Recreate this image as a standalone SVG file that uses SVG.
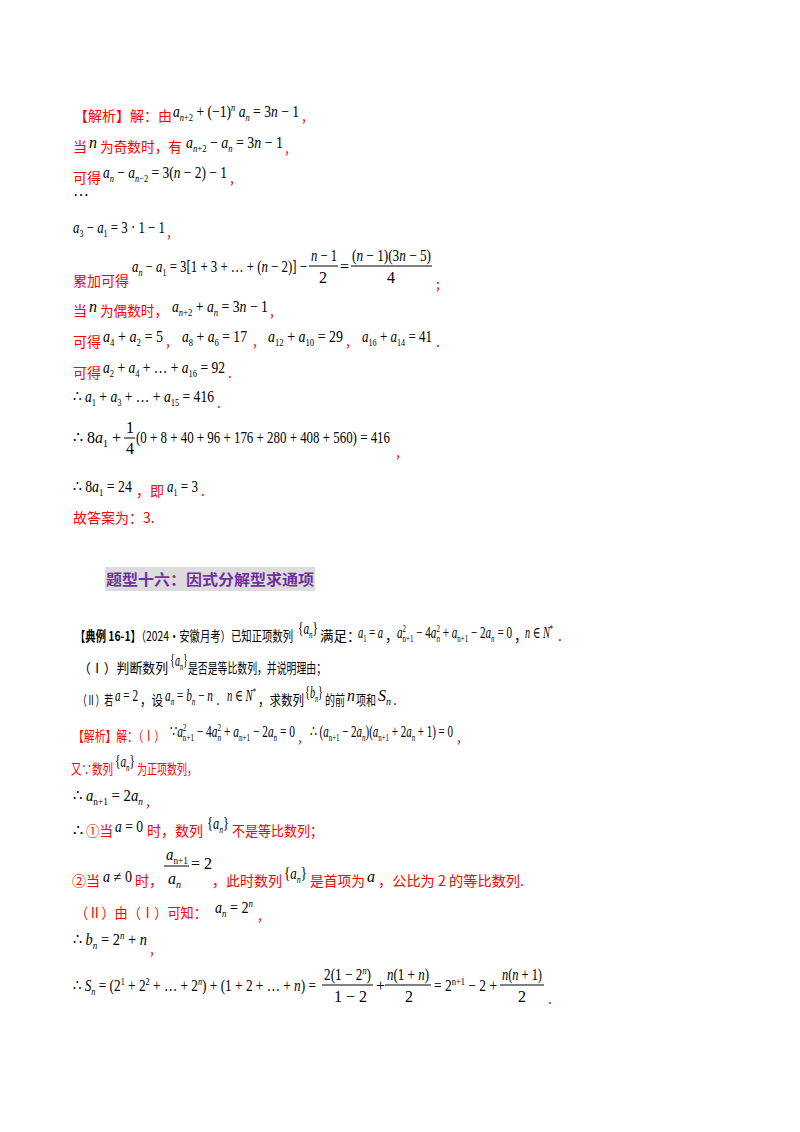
<svg xmlns="http://www.w3.org/2000/svg" width="800" height="1132" viewBox="0 0 800 1132">
<style>
.r{fill:#ff0000;font-family:"Noto Sans CJK SC",sans-serif;font-size:14px}
.k{fill:#000;font-family:"Noto Sans CJK SC",sans-serif;font-size:13.5px}
.m{fill:#000;font-family:"Liberation Serif","Times New Roman","DejaVu Serif",serif;font-size:16px}
.i{font-style:italic}
.s{font-size:10px}
.b{font-weight:bold}
.t{fill:#7030a0;font-family:"Noto Sans CJK SC",sans-serif;font-size:15px;font-weight:bold}
line{stroke:#000;stroke-width:1}
</style>
<rect width="800" height="1132" fill="#fff"/>
<g id="sol1">
<text x="74" y="121" class="r" textLength="98" lengthAdjust="spacingAndGlyphs">【解析】解：由</text>
<text x="173" y="117" class="m" textLength="126" lengthAdjust="spacingAndGlyphs"><tspan class="i">a</tspan><tspan class="s i" dy="4">n</tspan><tspan class="s" >+2</tspan><tspan dy="-4"> + (−1)</tspan><tspan class="s i" dy="-6">n</tspan><tspan class="i" dy="6"> a</tspan><tspan class="s i" dy="4">n</tspan><tspan dy="-4"> = 3</tspan><tspan class="i">n</tspan> − 1</text>
<text x="302" y="121" class="r">,</text>
<text x="73" y="152" class="r">当</text><text x="89" y="148" class="m i">n</text><text x="100" y="152" class="r" textLength="82" lengthAdjust="spacingAndGlyphs">为奇数时，有</text>
<text x="186" y="148" class="m" textLength="97" lengthAdjust="spacingAndGlyphs"><tspan class="i">a</tspan><tspan class="s i" dy="4">n</tspan><tspan class="s">+2</tspan><tspan dy="-4"> − </tspan><tspan class="i">a</tspan><tspan class="s i" dy="4">n</tspan><tspan dy="-4"> = 3</tspan><tspan class="i">n</tspan> − 1</text>
<text x="285" y="153" class="r">,</text>
<text x="73" y="183" class="r">可得</text>
<text x="103" y="178" class="m" textLength="124" lengthAdjust="spacingAndGlyphs"><tspan class="i">a</tspan><tspan class="s i" dy="4">n</tspan><tspan dy="-4"> − </tspan><tspan class="i">a</tspan><tspan class="s i" dy="4">n</tspan><tspan class="s">−2</tspan><tspan dy="-4"> = 3(</tspan><tspan class="i">n</tspan> − 2) − 1</text>
<text x="230" y="183" class="r">,</text>
<text x="73" y="196" class="m">…</text>
<text x="73" y="233" class="m" textLength="92" lengthAdjust="spacingAndGlyphs"><tspan class="i">a</tspan><tspan class="s" dy="4">3</tspan><tspan dy="-4"> − </tspan><tspan class="i">a</tspan><tspan class="s" dy="4">1</tspan><tspan dy="-4"> = 3 · 1 − 1</tspan></text>
<text x="167" y="237" class="r">,</text>
<text x="73" y="286" class="r">累加可得</text>
<text x="132" y="272" class="m" textLength="175" lengthAdjust="spacingAndGlyphs"><tspan class="i">a</tspan><tspan class="s i" dy="4">n</tspan><tspan dy="-4"> − </tspan><tspan class="i">a</tspan><tspan class="s" dy="4">1</tspan><tspan dy="-4"> = 3[1 + 3 + … + (</tspan><tspan class="i">n</tspan> − 2)] −</text>
<text x="311" y="261" class="m" textLength="26" lengthAdjust="spacingAndGlyphs"><tspan class="i">n</tspan> − 1</text><line x1="309" y1="266" x2="338" y2="266"/><text x="319" y="283" class="m">2</text>
<text x="340" y="272" class="m">=</text>
<text x="352" y="261" class="m" textLength="79" lengthAdjust="spacingAndGlyphs">(<tspan class="i">n</tspan> − 1)(3<tspan class="i">n</tspan> − 5)</text>
<line x1="351" y1="266" x2="432" y2="266"/><text x="387" y="283" class="m">4</text>
<text x="436" y="289" class="r">;</text>
<text x="73" y="316" class="r">当</text><text x="89" y="312" class="m i">n</text><text x="100" y="316" class="r" textLength="68" lengthAdjust="spacingAndGlyphs">为偶数时，</text>
<text x="172" y="312" class="m" textLength="96" lengthAdjust="spacingAndGlyphs"><tspan class="i">a</tspan><tspan class="s i" dy="4">n</tspan><tspan class="s">+2</tspan><tspan dy="-4"> + </tspan><tspan class="i">a</tspan><tspan class="s i" dy="4">n</tspan><tspan dy="-4"> = 3</tspan><tspan class="i">n</tspan> − 1</text>
<text x="270" y="316" class="r">,</text>
<text x="73" y="347" class="r">可得</text>
<text x="103" y="342" class="m" textLength="60" lengthAdjust="spacingAndGlyphs"><tspan class="i">a</tspan><tspan class="s" dy="4">4</tspan><tspan dy="-4"> + </tspan><tspan class="i">a</tspan><tspan class="s" dy="4">2</tspan><tspan dy="-4"> = 5</tspan></text>
<text x="166" y="346" class="r">,</text>
<text x="182" y="342" class="m" textLength="65" lengthAdjust="spacingAndGlyphs"><tspan class="i">a</tspan><tspan class="s" dy="4">8</tspan><tspan dy="-4"> + </tspan><tspan class="i">a</tspan><tspan class="s" dy="4">6</tspan><tspan dy="-4"> = 17</tspan></text>
<text x="253" y="346" class="r">,</text>
<text x="268" y="342" class="m" textLength="75" lengthAdjust="spacingAndGlyphs"><tspan class="i">a</tspan><tspan class="s" dy="4">12</tspan><tspan dy="-4"> + </tspan><tspan class="i">a</tspan><tspan class="s" dy="4">10</tspan><tspan dy="-4"> = 29</tspan></text>
<text x="346" y="346" class="r">,</text>
<text x="362" y="342" class="m" textLength="70" lengthAdjust="spacingAndGlyphs"><tspan class="i">a</tspan><tspan class="s" dy="4">16</tspan><tspan dy="-4"> + </tspan><tspan class="i">a</tspan><tspan class="s" dy="4">14</tspan><tspan dy="-4"> = 41</tspan></text>
<text x="436" y="347" class="r">.</text>
<text x="73" y="378" class="r">可得</text>
<text x="103" y="373" class="m" textLength="122" lengthAdjust="spacingAndGlyphs"><tspan class="i">a</tspan><tspan class="s" dy="4">2</tspan><tspan dy="-4"> + </tspan><tspan class="i">a</tspan><tspan class="s" dy="4">4</tspan><tspan dy="-4"> + … + </tspan><tspan class="i">a</tspan><tspan class="s" dy="4">16</tspan><tspan dy="-4"> = 92</tspan></text>
<text x="228" y="378" class="r">.</text>
<text x="73" y="402" class="m" textLength="141" lengthAdjust="spacingAndGlyphs">∴ <tspan class="i">a</tspan><tspan class="s" dy="4">1</tspan><tspan dy="-4"> + </tspan><tspan class="i">a</tspan><tspan class="s" dy="4">3</tspan><tspan dy="-4"> + … + </tspan><tspan class="i">a</tspan><tspan class="s" dy="4">15</tspan><tspan dy="-4"> = 416</tspan></text>
<text x="217" y="408" class="r">.</text>
<text x="73" y="443" class="m" textLength="48" lengthAdjust="spacingAndGlyphs">∴ 8<tspan class="i">a</tspan><tspan class="s" dy="4">1</tspan><tspan dy="-4"> +</tspan></text>
<text x="126" y="433" class="m">1</text><line x1="124" y1="438" x2="135" y2="438"/><text x="126" y="454" class="m">4</text>
<text x="136" y="443" class="m" textLength="254" lengthAdjust="spacingAndGlyphs">(0 + 8 + 40 + 96 + 176 + 280 + 408 + 560) = 416</text>
<text x="396" y="457" class="r">,</text>
<text x="73" y="492" class="m" textLength="59" lengthAdjust="spacingAndGlyphs">∴ 8<tspan class="i">a</tspan><tspan class="s" dy="4">1</tspan><tspan dy="-4"> = 24</tspan></text>
<text x="136" y="496" class="r">，即</text>
<text x="167" y="492" class="m" textLength="31" lengthAdjust="spacingAndGlyphs"><tspan class="i">a</tspan><tspan class="s" dy="4">1</tspan><tspan dy="-4"> = 3</tspan></text>
<text x="201" y="496" class="r">.</text>
<text x="73" y="523" class="r">故答案为：3.</text>
</g>
<g id="title">
<rect x="105" y="567" width="210" height="24" fill="#dcdcdc"/>
<text x="106" y="585" class="t" textLength="208" lengthAdjust="spacingAndGlyphs">题型十六：因式分解型求通项</text>
</g>
<g id="example">
<text x="75" y="641" class="k" textLength="218" lengthAdjust="spacingAndGlyphs"><tspan class="b">【典例 16-1】</tspan>（2024•安徽月考）已知正项数列</text>
<text x="298" y="634" class="m" textLength="20" lengthAdjust="spacingAndGlyphs">{<tspan class="i">a</tspan><tspan class="s i" dy="4">n</tspan><tspan dy="-4">}</tspan></text>
<text x="320" y="641" class="k">满足：</text>
<text x="358" y="638" class="m" textLength="25" lengthAdjust="spacingAndGlyphs"><tspan class="i">a</tspan><tspan class="s" dy="4">1</tspan><tspan dy="-4"> = </tspan><tspan class="i">a</tspan></text>
<text x="385" y="641" class="k">，</text>
<text x="397" y="638" class="m" textLength="115" lengthAdjust="spacingAndGlyphs"><tspan class="i">a</tspan><tspan class="s" dy="-6">2</tspan><tspan class="s" dx="-5" dy="10">n+1</tspan><tspan dy="-4"> − 4</tspan><tspan class="i">a</tspan><tspan class="s" dy="-6">2</tspan><tspan class="s i" dx="-5" dy="10">n</tspan><tspan dy="-4"> + </tspan><tspan class="i">a</tspan><tspan class="s" dy="4">n+1</tspan><tspan dy="-4"> − 2</tspan><tspan class="i">a</tspan><tspan class="s i" dy="4">n</tspan><tspan dy="-4"> = 0</tspan></text>
<text x="514" y="641" class="k">，</text>
<text x="525" y="638" class="m" textLength="28" lengthAdjust="spacingAndGlyphs"><tspan class="i">n</tspan> ∈ <tspan class="i">N</tspan><tspan class="s" dy="-6">*</tspan></text>
<text x="558" y="641" class="k">.</text>
<text x="78" y="673" class="k" textLength="90" lengthAdjust="spacingAndGlyphs">（Ⅰ）判断数列</text>
<text x="170" y="666" class="m" textLength="18" lengthAdjust="spacingAndGlyphs">{<tspan class="i">a</tspan><tspan class="s i" dy="4">n</tspan><tspan dy="-4">}</tspan></text>
<text x="188" y="673" class="k" textLength="138" lengthAdjust="spacingAndGlyphs">是否是等比数列，并说明理由；</text>
<text x="78" y="705" class="k" textLength="35" lengthAdjust="spacingAndGlyphs">（Ⅱ）若</text>
<text x="115" y="701" class="m" textLength="23" lengthAdjust="spacingAndGlyphs"><tspan class="i">a</tspan> = 2</text>
<text x="140" y="705" class="k" textLength="23" lengthAdjust="spacingAndGlyphs">，设</text>
<text x="165" y="701" class="m" textLength="48" lengthAdjust="spacingAndGlyphs"><tspan class="i">a</tspan><tspan class="s i" dy="4">n</tspan><tspan dy="-4"> = </tspan><tspan class="i">b</tspan><tspan class="s i" dy="4">n</tspan><tspan dy="-4"> − </tspan><tspan class="i">n</tspan></text>
<text x="216" y="705" class="k">.</text>
<text x="227" y="701" class="m" textLength="29" lengthAdjust="spacingAndGlyphs"><tspan class="i">n</tspan> ∈ <tspan class="i">N</tspan><tspan class="s" dy="-6">*</tspan></text>
<text x="258" y="705" class="k" textLength="46" lengthAdjust="spacingAndGlyphs">，求数列</text>
<text x="305" y="698" class="m" textLength="18" lengthAdjust="spacingAndGlyphs">{<tspan class="i">b</tspan><tspan class="s i" dy="4">n</tspan><tspan dy="-4">}</tspan></text>
<text x="325" y="705" class="k" textLength="20" lengthAdjust="spacingAndGlyphs">的前</text>
<text x="347" y="701" class="m i">n</text>
<text x="356" y="705" class="k" textLength="20" lengthAdjust="spacingAndGlyphs">项和</text>
<text x="378" y="701" class="m"><tspan class="i">S</tspan><tspan class="s i" dy="4">n</tspan></text>
<text x="393" y="705" class="k">.</text>
</g>
<g id="sol2">
<text x="73" y="741" class="r" textLength="92" lengthAdjust="spacingAndGlyphs">【解析】解：（Ⅰ）</text>
<text x="170" y="737" class="m" textLength="125" lengthAdjust="spacingAndGlyphs">∵<tspan class="i">a</tspan><tspan class="s" dy="-6">2</tspan><tspan class="s" dx="-5" dy="10">n+1</tspan><tspan dy="-4"> − 4</tspan><tspan class="i">a</tspan><tspan class="s" dy="-6">2</tspan><tspan class="s i" dx="-5" dy="10">n</tspan><tspan dy="-4"> + </tspan><tspan class="i">a</tspan><tspan class="s" dy="4">n+1</tspan><tspan dy="-4"> − 2</tspan><tspan class="i">a</tspan><tspan class="s i" dy="4">n</tspan><tspan dy="-4"> = 0</tspan></text>
<text x="298" y="742" class="r">,</text>
<text x="310" y="737" class="m" textLength="143" lengthAdjust="spacingAndGlyphs">∴ (<tspan class="i">a</tspan><tspan class="s" dy="4">n+1</tspan><tspan dy="-4"> − 2</tspan><tspan class="i">a</tspan><tspan class="s i" dy="4">n</tspan><tspan dy="-4">)(</tspan><tspan class="i">a</tspan><tspan class="s" dy="4">n+1</tspan><tspan dy="-4"> + 2</tspan><tspan class="i">a</tspan><tspan class="s i" dy="4">n</tspan><tspan dy="-4"> + 1) = 0</tspan></text>
<text x="457" y="742" class="r">,</text>
<text x="71" y="774" class="r" textLength="42" lengthAdjust="spacingAndGlyphs">又∵数列</text>
<text x="115" y="767" class="m" textLength="20" lengthAdjust="spacingAndGlyphs">{<tspan class="i">a</tspan><tspan class="s i" dy="4">n</tspan><tspan dy="-4">}</tspan></text>
<text x="137" y="774" class="r" textLength="60" lengthAdjust="spacingAndGlyphs">为正项数列，</text>
<text x="73" y="801" class="m" textLength="70" lengthAdjust="spacingAndGlyphs">∴ <tspan class="i">a</tspan><tspan class="s" dy="4">n+1</tspan><tspan dy="-4"> = 2</tspan><tspan class="i">a</tspan><tspan class="s i" dy="4">n</tspan></text>
<text x="146" y="806" class="r">,</text>
<text x="73" y="836" class="m">∴</text><text x="86" y="836" class="r" textLength="27" lengthAdjust="spacingAndGlyphs">①当</text>
<text x="115" y="832" class="m" textLength="28" lengthAdjust="spacingAndGlyphs"><tspan class="i">a</tspan> = 0</text>
<text x="147" y="836" class="r" textLength="56" lengthAdjust="spacingAndGlyphs">时，数列</text>
<text x="207" y="829" class="m" textLength="22" lengthAdjust="spacingAndGlyphs">{<tspan class="i">a</tspan><tspan class="s i" dy="4">n</tspan><tspan dy="-4">}</tspan></text>
<text x="232" y="836" class="r" textLength="91" lengthAdjust="spacingAndGlyphs">不是等比数列；</text>
<text x="166" y="860" class="m" textLength="22" lengthAdjust="spacingAndGlyphs"><tspan class="i">a</tspan><tspan class="s" dy="4">n+1</tspan></text><line x1="164" y1="866" x2="189" y2="866"/>
<text x="168" y="884" class="m"><tspan class="i">a</tspan><tspan class="s i" dy="4">n</tspan></text>
<text x="191" y="869" class="m">= 2</text>
<text x="72" y="886" class="r">②当</text>
<text x="103" y="882" class="m" textLength="29" lengthAdjust="spacingAndGlyphs"><tspan class="i">a</tspan> ≠ 0</text>
<text x="135" y="886" class="r">时，</text>
<text x="212" y="886" class="r" textLength="70" lengthAdjust="spacingAndGlyphs">，此时数列</text>
<text x="284" y="879" class="m" textLength="23" lengthAdjust="spacingAndGlyphs">{<tspan class="i">a</tspan><tspan class="s i" dy="4">n</tspan><tspan dy="-4">}</tspan></text>
<text x="310" y="886" class="r" textLength="55" lengthAdjust="spacingAndGlyphs">是首项为</text>
<text x="367" y="882" class="m i">a</text>
<text x="378" y="886" class="r" textLength="146" lengthAdjust="spacingAndGlyphs">，公比为 2 的等比数列.</text>
<text x="75" y="918" class="r" textLength="132" lengthAdjust="spacingAndGlyphs">（Ⅱ）由（Ⅰ）可知：</text>
<text x="215" y="913" class="m" textLength="38" lengthAdjust="spacingAndGlyphs"><tspan class="i">a</tspan><tspan class="s i" dy="4">n</tspan><tspan dy="-4"> = 2</tspan><tspan class="s i" dy="-6">n</tspan></text>
<text x="258" y="920" class="r">,</text>
<text x="73" y="945" class="m" textLength="74" lengthAdjust="spacingAndGlyphs">∴ <tspan class="i">b</tspan><tspan class="s i" dy="4">n</tspan><tspan dy="-4"> = 2</tspan><tspan class="s i" dy="-6">n</tspan><tspan dy="6"> + </tspan><tspan class="i">n</tspan></text>
<text x="150" y="954" class="r">,</text>
<text x="73" y="991" class="m" textLength="243" lengthAdjust="spacingAndGlyphs">∴ <tspan class="i">S</tspan><tspan class="s i" dy="4">n</tspan><tspan dy="-4"> = (2</tspan><tspan class="s" dy="-6">1</tspan><tspan dy="6"> + 2</tspan><tspan class="s" dy="-6">2</tspan><tspan dy="6"> + … + 2</tspan><tspan class="s i" dy="-6">n</tspan><tspan dy="6">) + (1 + 2 + … + </tspan><tspan class="i">n</tspan>) =</text>
<text x="324" y="980" class="m" textLength="47" lengthAdjust="spacingAndGlyphs">2(1 − 2<tspan class="s i" dy="-6">n</tspan><tspan dy="6">)</tspan></text><line x1="322" y1="985" x2="373" y2="985"/>
<text x="334" y="1002" class="m">1 − 2</text>
<text x="376" y="991" class="m">+</text>
<text x="387" y="980" class="m" textLength="42" lengthAdjust="spacingAndGlyphs"><tspan class="i">n</tspan>(1 + <tspan class="i">n</tspan>)</text><line x1="385" y1="985" x2="431" y2="985"/>
<text x="405" y="1002" class="m">2</text>
<text x="434" y="991" class="m" textLength="63" lengthAdjust="spacingAndGlyphs">= 2<tspan class="s" dy="-6">n+1</tspan><tspan dy="6"> − 2 +</tspan></text>
<text x="502" y="980" class="m" textLength="40" lengthAdjust="spacingAndGlyphs"><tspan class="i">n</tspan>(<tspan class="i">n</tspan> + 1)</text><line x1="500" y1="985" x2="544" y2="985"/>
<text x="518" y="1002" class="m">2</text>
<text x="548" y="1004" class="r">.</text>
</g>
</svg>
